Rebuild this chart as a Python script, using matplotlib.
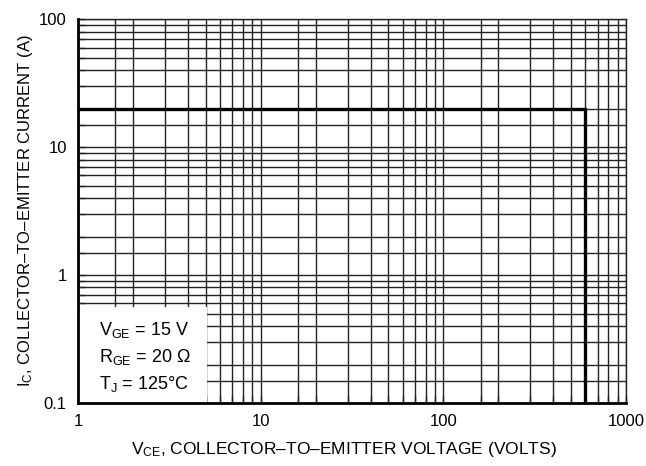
import matplotlib
matplotlib.use("Agg")
import matplotlib.pyplot as plt
from matplotlib.patches import Rectangle
from matplotlib.ticker import FixedLocator, NullFormatter

plt.rcParams["font.family"] = ["Liberation Sans", "DejaVu Sans"]
plt.rcParams["mathtext.fontset"] = "custom"
plt.rcParams["mathtext.rm"] = "Liberation Sans"
plt.rcParams["mathtext.it"] = "Liberation Sans"

# safe operating boundary
vce = [1, 600, 600]
ic = [20, 20, 0.1]

x_major = [1, 10, 100, 1000]
x_labels = ["1", "10", "100", "1000"]
y_major = [0.1, 1, 10, 100]
y_labels = ["0.1", "1", "10", "100"]
x_mult = [1.6, 2, 3, 4, 5, 6, 7, 8, 9]
y_mult = [1.5, 2, 3, 4, 5, 6, 7, 8, 9]

conditions = [r"V$_{\mathrm{GE}}$ = 15 V",
              r"R$_{\mathrm{GE}}$ = 20 $\Omega$",
              r"T$_{\mathrm{J}}$ = 125°C"]

x_minor = [m * d for d in x_major[:-1] for m in x_mult]
y_minor = [m * d for d in y_major[:-1] for m in y_mult]

fig = plt.figure(figsize=(6.46, 4.66), dpi=100)
ax = fig.add_axes([0.1207, 0.135, 0.8483, 0.824])
ax.set_xscale("log")
ax.set_yscale("log")
ax.set_xlim(1, 1000)
ax.set_ylim(0.1, 100)

grid_kw = dict(color="#222222", lw=1.0, zorder=1)
ax.vlines(x_minor + x_major, 0.1, 100, **grid_kw)
ax.hlines(y_minor + y_major, 1, 1000, **grid_kw)

# white box behind the test conditions
ax.add_patch(Rectangle((0, 0), 0.235, 0.25, transform=ax.transAxes,
                       facecolor="white", edgecolor="none", zorder=2))

ax.plot(vce, ic, color="black", lw=2.4, zorder=3, solid_joinstyle="miter")

ax.xaxis.set_major_locator(FixedLocator(x_major))
ax.xaxis.set_minor_locator(FixedLocator(x_minor))
ax.yaxis.set_major_locator(FixedLocator(y_major))
ax.yaxis.set_minor_locator(FixedLocator(y_minor))
ax.set_xticklabels(x_labels)
ax.set_yticklabels(y_labels)
ax.xaxis.set_minor_formatter(NullFormatter())
ax.yaxis.set_minor_formatter(NullFormatter())
ax.tick_params(which="both", direction="in", length=5, width=1.0,
               color="#222222", labelsize=12, pad=8)

for side in ["left", "bottom"]:
    ax.spines[side].set_linewidth(2.0)
    ax.spines[side].set_zorder(4)
for side in ["top", "right"]:
    ax.spines[side].set_linewidth(1.0)
    ax.spines[side].set_color("#222222")

for i, t in enumerate(conditions):
    ax.text(0.038, 0.19 - i * 0.07, t, transform=ax.transAxes, fontsize=13,
            ha="left", va="center", zorder=5)

ax.set_xlabel("V$_{\\mathrm{CE}}$, COLLECTOR–TO–EMITTER VOLTAGE (VOLTS)",
              fontsize=12.5)
ax.set_ylabel("I$_{\\mathrm{C}}$, COLLECTOR–TO–EMITTER CURRENT (A)",
              fontsize=12)
ax.xaxis.set_label_coords(0.485, -0.096)
ax.yaxis.set_label_coords(-0.079, 0.5)

fig.savefig("out.png", dpi=100)
